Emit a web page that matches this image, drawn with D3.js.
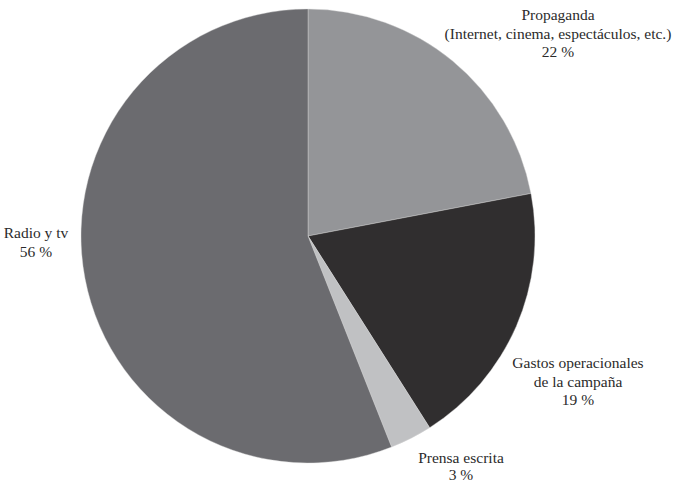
<!DOCTYPE html>
<html>
<head>
<meta charset="utf-8">
<script src="https://cdn.jsdelivr.net/npm/d3@7"></script>
<style>
  body { margin: 0; background: #fff; }
</style>
</head>
<body>
<div class="pie"></div>
<script>
// Data
var categories = ["Propaganda", "Gastos operacionales", "Prensa escrita", "Radio y tv"];
var values = [22, 19, 3, 56];
var labelLines = [
    ["Propaganda", "(Internet, cinema, espectáculos, etc.)", "22 %"],
    ["Gastos operacionales", "de la campaña", "19 %"],
    ["Prensa escrita", "3 %"],
    ["Radio y tv", "56 %"]
];
var colors = ["#949598", "#302e2f", "#c0c1c3", "#6b6b6f"];

// Canvas
var svgWidth = 675;
var svgHeight = 486;
var cx = 308, cy = 236, radius = 227;

var svg = d3.select(".pie")
            .append("svg")
            .attr("width", svgWidth)
            .attr("height", svgHeight);

var pieGroup = svg.append("g")
                  .attr("transform", `translate(${cx}, ${cy})`);

var pie = d3.pie().sort(null).value(d => d.value);
var arc = d3.arc().innerRadius(0).outerRadius(radius);

var data = categories.map((c, i) => ({ name: c, value: values[i], lines: labelLines[i], color: colors[i] }));
var arcs = pie(data);

pieGroup.selectAll("path")
        .data(arcs)
        .enter()
        .append("path")
        .attr("d", arc)
        .attr("fill", d => d.data.color)
        .attr("stroke", "#d8d8d8")
        .attr("stroke-width", 0.4);

// Label anchor positions (layout, relative to page) for each slice
var labelAnchors = [
    { x: 558, y: 20 },
    { x: 578, y: 368 },
    { x: 461, y: 463 },
    { x: 36, y: 238 }
];
var lineHeight = 18.5;

var labels = svg.selectAll("text.label")
                .data(arcs)
                .enter()
                .append("text")
                .attr("class", "label")
                .attr("text-anchor", "middle")
                .attr("font-family", "'Liberation Serif', 'Times New Roman', serif")
                .attr("font-size", "15.5px")
                .attr("fill", "#2b2b2b")
                .attr("transform", (d, i) => `translate(${labelAnchors[i].x}, ${labelAnchors[i].y})`);

labels.selectAll("tspan")
      .data(d => d.data.lines)
      .enter()
      .append("tspan")
      .attr("x", 0)
      .attr("y", (d, i) => i * (d === "3 %" ? 17 : lineHeight))
      .text(d => d);
</script>
</body>
</html>
